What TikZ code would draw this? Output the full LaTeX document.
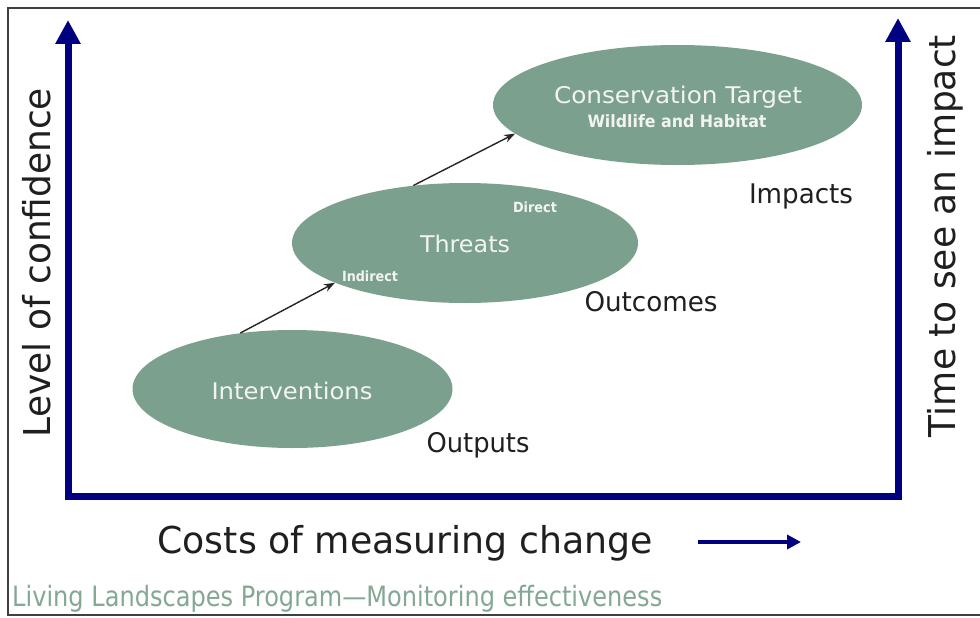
\documentclass[tikz,border=0pt]{standalone}
\usepackage{fontspec}
\usepackage{graphicx}
\setmainfont{DejaVu Sans}
\usetikzlibrary{arrows.meta,shapes.geometric}
\definecolor{ellgreen}{RGB}{124,160,142}
\definecolor{foot}{RGB}{132,168,148}
\definecolor{axisblue}{RGB}{0,0,128}
\definecolor{ltext}{RGB}{242,244,242}
\newcommand{\fitw}[3]{\resizebox{#1pt}{\height}{\fontsize{#2}{#2}\selectfont #3}}
\newcommand{\fitwb}[3]{\resizebox{#1pt}{\height}{\fontsize{#2}{#2}\selectfont\bfseries #3}}
\tikzset{
  blob/.style={ellipse, fill=ellgreen, draw=none, inner sep=0pt},
  intext/.style={text=ltext, inner sep=0pt, anchor=base},
  outtext/.style={text=black!88, inner sep=0pt, anchor=base},
  axis/.style={draw=axisblue, line width=7pt, line join=miter},
  link/.style={draw=black!85, line width=1.4pt, -{Stealth[length=11pt,width=8pt]}}
}
\begin{document}
\begin{tikzpicture}[x=1pt,y=-1pt]
\useasboundingbox (0,0) rectangle (980,618);
\fill[white] (0,0) rectangle (980,618);
% frame
\draw[black!75, line width=2pt] (990,8) -- (8,8) -- (8,615) -- (990,615);
% axes
\coordinate (ytop) at (68,20);
\coordinate (origin) at (68,496);
\coordinate (xend) at (898,496);
\coordinate (rtop) at (898,18);
\draw[axis, {Triangle[width=24pt,length=24pt]}-{Triangle[width=24pt,length=24pt]}] (ytop) -- (origin) -- (xend) -- (rtop);
% ellipses
\node[blob, minimum width=369pt, minimum height=120pt] (cons) at (677.5,105) {};
\node[blob, minimum width=346pt, minimum height=120pt] (thr) at (465,243) {};
\node[blob, minimum width=320pt, minimum height=118pt] (intv) at (292.5,389) {};
% links
\draw[link] (intv.133) -- (thr.197);
\draw[link] (thr.132) -- (cons.190);
% texts inside
\node[intext] (tcons) at (678,103) {\fitw{248}{23}{Conservation Target}};
\node[intext] (twild) at (677,127) {\fitwb{179}{17}{Wildlife and Habitat}};
\node[intext] (tthr) at (465,252) {\fitw{90}{23}{Threats}};
\node[intext] (tdir) at (535,212) {\fitwb{44}{14}{Direct}};
\node[intext] (tind) at (370,281) {\fitwb{56}{14}{Indirect}};
\node[intext] (tint) at (292,399) {\fitw{161}{23}{Interventions}};
% outside labels
\node[outtext] (impacts) at (801,203) {\fitw{104}{27}{Impacts}};
\node[outtext] (outcomes) at (651,311) {\fitw{133}{27}{Outcomes}};
\node[outtext] (outputs) at (478,452) {\fitw{103}{27}{Outputs}};
% axis titles
\node[outtext, rotate=90] (ylab) at (50,262.5) {\fitw{349}{37}{Level of confidence}};
\node[outtext, rotate=90] (rlab) at (955,236) {\fitw{402}{37}{Time to see an impact}};
\node[outtext] (xlab) at (405,553) {\fitw{495}{37}{Costs of measuring change}};
\coordinate (xa1) at (698,542);
\coordinate (xa2) at (801,542);
\draw[draw=axisblue, line width=4pt, -{Triangle[width=14pt,length=14pt]}] (xa1) -- (xa2);
% footer
\node[text=foot, inner sep=0pt, anchor=base west] (footer) at (12,606) {\fitw{650}{28}{Living Landscapes Program---Monitoring effectiveness}};
\end{tikzpicture}
\end{document}
